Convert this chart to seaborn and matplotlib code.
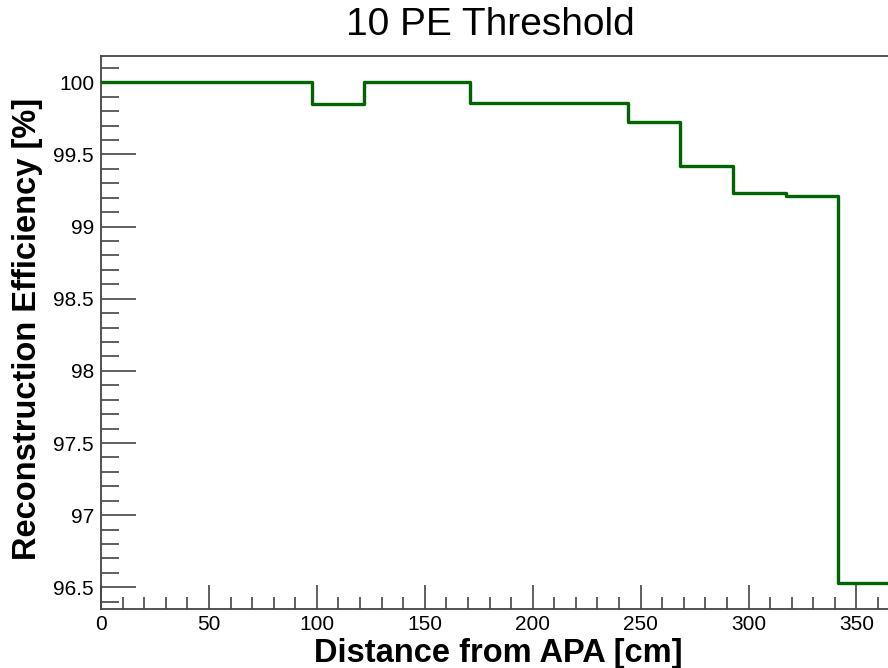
import matplotlib
matplotlib.use('Agg')
import matplotlib.pyplot as plt
import numpy as np
import pandas as pd
import seaborn as sns
from matplotlib.ticker import MultipleLocator

# 15 bins of 24.4 cm from the APA
BIN_WIDTH = 24.4
N_BINS = 15
efficiency = [100.0, 100.0, 100.0, 100.0, 99.852, 100.0, 100.0, 99.859,
              99.859, 99.859, 99.725, 99.42, 99.236, 99.21, 96.533]
title = '10 PE Threshold'
x_label = 'Distance from APA [cm]'
y_label = 'Reconstruction Efficiency [%]'

edges = np.arange(N_BINS + 1) * BIN_WIDTH
centers = edges[:-1] + BIN_WIDTH / 2
df = pd.DataFrame({'distance': centers, 'eff': efficiency})

sns.set_style('ticks')
plt.rcParams['font.family'] = ['Liberation Sans', 'DejaVu Sans']
plt.rcParams['text.color'] = 'black'
plt.rcParams['axes.labelcolor'] = 'black'

fig = plt.figure(figsize=(8.88, 6.68), dpi=100)
ax = fig.add_axes([101 / 888, 1 - 609 / 668, 790 / 888, (609 - 55.7) / 668])

sns.histplot(data=df, x='distance', weights='eff', bins=N_BINS,
             binrange=(edges[0], edges[-1]), element='step',
             fill=False, color='#006400', linewidth=2.4, ax=ax)

ax.set_xlim(0, 366)
ax.set_ylim(96.35, 100.184)
ax.xaxis.set_major_locator(MultipleLocator(50))
ax.xaxis.set_minor_locator(MultipleLocator(10))
ax.yaxis.set_major_locator(MultipleLocator(0.5))
ax.yaxis.set_minor_locator(MultipleLocator(0.1))
ax.yaxis.set_major_formatter(plt.FuncFormatter(lambda v, p: f'{v:g}'))

ax.tick_params(axis='x', which='major', direction='in', length=17, width=1.2,
               labelsize=15, pad=4, color='#444444', labelcolor='black', top=False)
ax.tick_params(axis='x', which='minor', direction='in', length=9, width=1.2,
               color='#444444', top=False)
ax.tick_params(axis='y', which='major', direction='in', length=25, width=1.2,
               labelsize=15, pad=5, color='#444444', labelcolor='black', right=False)
ax.tick_params(axis='y', which='minor', direction='in', length=13, width=1.2,
               color='#444444', right=False)
for s in ax.spines.values():
    s.set_linewidth(1.3)
    s.set_color('#444444')

ax.set_xlabel(x_label, fontsize=23.5, fontweight='bold')
ax.set_ylabel(y_label, fontsize=23.5, fontweight='bold')
ax.xaxis.set_label_coords((498 - 101) / 790, (609 - 638) / 553.3)
ax.yaxis.set_label_coords((43 - 101) / 790, (609 - 329) / 553.3)
fig.text(490 / 888, 1 - 25 / 668, title, fontsize=28, ha='center', va='center')

fig.savefig('out.png', dpi=100)
